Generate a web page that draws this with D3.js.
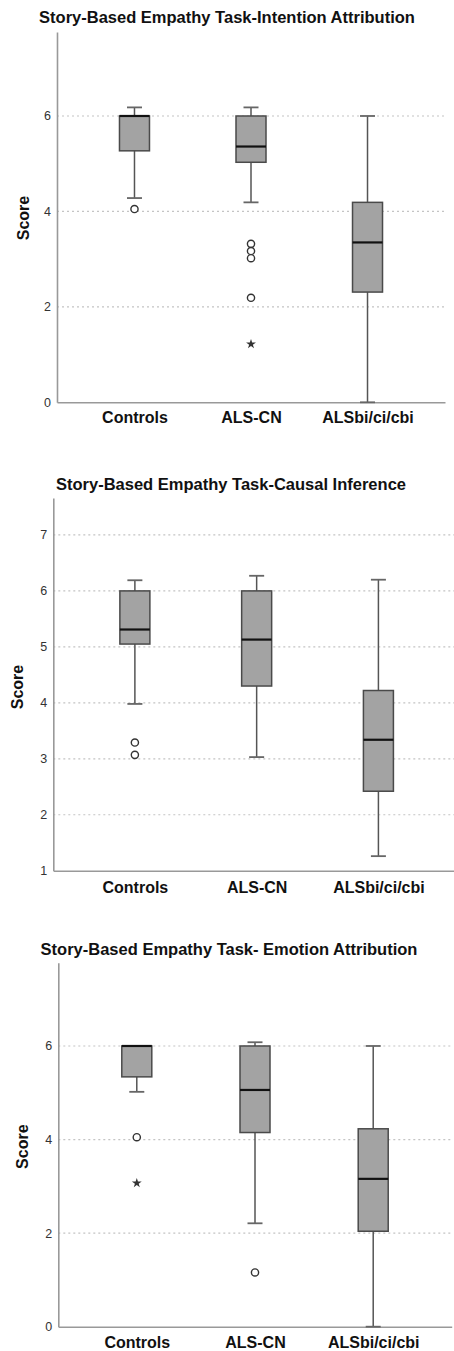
<!DOCTYPE html>
<html>
<head>
<meta charset="utf-8">
<script src="https://cdn.jsdelivr.net/npm/d3@7"></script>
<style>
  body { margin: 0; background: #fff; }
  svg { display: block; font-family: "Liberation Sans", Arial, sans-serif; }
</style>
</head>
<body>
<script>
// groups shared by the three panels
const categories = ["Controls", "ALS-CN", "ALSbi/ci/cbi"];

// five-number summaries: [lower whisker, Q1, median, Q3, upper whisker]
const intentionBoxes = [[4.28, 5.27, 6.00, 6.00, 6.18], [4.19, 5.03, 5.36, 6.00, 6.18], [0.00, 2.31, 3.35, 4.19, 6.00]];
const intentionOutliers = [[4.05], [3.32, 3.17, 3.02, 2.19], []];
const intentionExtremes = [[], [1.22], []];
const intentionTicks = [0, 2, 4, 6];

const causalBoxes = [[3.98, 5.05, 5.31, 6.00, 6.19], [3.03, 4.30, 5.13, 6.00, 6.27], [1.26, 2.42, 3.34, 4.22, 6.20]];
const causalOutliers = [[3.29, 3.07], [], []];
const causalExtremes = [[], [], []];
const causalTicks = [1, 2, 3, 4, 5, 6, 7];

const emotionBoxes = [[5.02, 5.34, 6.00, 6.00, 6.00], [2.21, 4.15, 5.06, 6.00, 6.08], [0.00, 2.04, 3.16, 4.23, 6.00]];
const emotionOutliers = [[4.05], [1.16], []];
const emotionExtremes = [[3.07], [], []];
const emotionTicks = [0, 2, 4, 6];

const width = 454, height = 1351;

const svg = d3.select("body").append("svg")
  .attr("width", width)
  .attr("height", height);

// layout of each panel (pixel positions)
const panels = [
  { title: "Story-Based Empathy Task-Intention Attribution", boxes: intentionBoxes, outliers: intentionOutliers,
    extremes: intentionExtremes, ticks: intentionTicks, domain: [0, 7.76],
    titleX: 227, titleY: 23, left: 57, right: 445, top: 32, bottom: 402.3, pad: 0.665, catPad: 9.5,
    scoreX: 23, scoreY: 218 },
  { title: "Story-Based Empathy Task-Causal Inference", boxes: causalBoxes, outliers: causalOutliers,
    extremes: causalExtremes, ticks: causalTicks, domain: [1, 7.66],
    titleX: 231, titleY: 490, left: 53.3, right: 460, top: 498, bottom: 870.7, pad: 0.67, catPad: 11,
    scoreX: 17, scoreY: 687 },
  { title: "Story-Based Empathy Task- Emotion Attribution", boxes: emotionBoxes, outliers: emotionOutliers,
    extremes: emotionExtremes, ticks: emotionTicks, domain: [0, 7.78],
    titleX: 229, titleY: 955, left: 58.3, right: 451.7, top: 962.7, bottom: 1326.7, pad: 0.664, catPad: 10,
    scoreX: 22.7, scoreY: 1146.7 }
];

const boxW = 30, capW = 15;

panels.forEach(function(p) {
  var g = svg.append("g");

  var y = d3.scaleLinear().domain(p.domain).range([p.bottom, p.top]);
  var x = d3.scalePoint().domain(categories).range([p.left, p.right]).padding(p.pad);

  // title
  g.append("text")
    .attr("x", p.titleX).attr("y", p.titleY)
    .attr("text-anchor", "middle")
    .attr("font-size", 16.5).attr("font-weight", "bold")
    .attr("fill", "#111")
    .text(p.title);

  // dotted grid lines
  g.selectAll(".grid")
    .data(p.ticks.filter(function(t) { return t !== p.domain[0]; }))
    .enter().append("line")
      .attr("x1", p.left).attr("x2", p.right)
      .attr("y1", function(d) { return y(d); })
      .attr("y2", function(d) { return y(d); })
      .attr("stroke", "#c4c4c4")
      .attr("stroke-width", 1.2)
      .attr("stroke-dasharray", "2,3");

  // y axis
  var yAxis = d3.axisLeft(y).tickValues(p.ticks).tickSize(0).tickPadding(6).tickFormat(d3.format("d"));
  var ya = g.append("g").attr("transform", "translate(" + p.left + ",0)").call(yAxis);
  ya.select(".domain").attr("stroke", "#999").attr("stroke-width", 1.6);
  ya.selectAll("text").attr("font-size", 12.5).attr("fill", "#333").attr("font-family", "Liberation Sans, Arial, sans-serif");

  // x axis
  var xAxis = d3.axisBottom(x).tickSize(0).tickPadding(p.catPad);
  var xa = g.append("g").attr("transform", "translate(0," + p.bottom + ")").call(xAxis);
  xa.select(".domain").attr("stroke", "#999").attr("stroke-width", 1.6);
  xa.selectAll("text").attr("font-size", 16).attr("font-weight", "bold").attr("fill", "#111")
    .attr("font-family", "Liberation Sans, Arial, sans-serif");

  // y label
  g.append("text")
    .attr("transform", "translate(" + p.scoreX + "," + p.scoreY + ") rotate(-90)")
    .attr("text-anchor", "middle")
    .attr("dy", "0.35em")
    .attr("font-size", 16).attr("font-weight", "bold")
    .attr("fill", "#111")
    .text("Score");

  var boxes = g.selectAll(".box")
    .data(p.boxes)
    .enter().append("g")
      .attr("transform", function(d, i) { return "translate(" + x(categories[i]) + ",0)"; });

  // whiskers
  boxes.append("line")
    .attr("x1", 0).attr("x2", 0)
    .attr("y1", function(d) { return y(d[0]); })
    .attr("y2", function(d) { return y(d[1]); })
    .attr("stroke", "#555").attr("stroke-width", 1.5);
  boxes.append("line")
    .attr("x1", 0).attr("x2", 0)
    .attr("y1", function(d) { return y(d[3]); })
    .attr("y2", function(d) { return y(d[4]); })
    .attr("stroke", "#555").attr("stroke-width", 1.5);
  // caps
  boxes.selectAll(".cap")
    .data(function(d) { return [d[0], d[4]]; })
    .enter().append("line")
      .attr("x1", -capW / 2).attr("x2", capW / 2)
      .attr("y1", function(v) { return y(v); })
      .attr("y2", function(v) { return y(v); })
      .attr("stroke", "#666").attr("stroke-width", 1.8);

  // box
  boxes.append("rect")
    .attr("x", -boxW / 2).attr("width", boxW)
    .attr("y", function(d) { return y(d[3]); })
    .attr("height", function(d) { return y(d[1]) - y(d[3]); })
    .attr("fill", "#a3a3a3")
    .attr("stroke", "#4a4a4a").attr("stroke-width", 1.5);

  // median
  boxes.append("line")
    .attr("x1", -boxW / 2).attr("x2", boxW / 2)
    .attr("y1", function(d) { return y(d[2]); })
    .attr("y2", function(d) { return y(d[2]); })
    .attr("stroke", "#111").attr("stroke-width", 2.2);

  // outliers (circles) and extremes (stars)
  boxes.each(function(d, i) {
    d3.select(this).selectAll(".out")
      .data(p.outliers[i])
      .enter().append("circle")
        .attr("cx", 0)
        .attr("cy", function(v) { return y(v); })
        .attr("r", 3.6)
        .attr("fill", "#fff")
        .attr("stroke", "#333").attr("stroke-width", 1.4);

    d3.select(this).selectAll(".ext")
      .data(p.extremes[i])
      .enter().append("path")
        .attr("d", d3.symbol().type(d3.symbolStar).size(30))
        .attr("transform", function(v) { return "translate(0," + y(v) + ")"; })
        .attr("fill", "#333");
  });
});
</script>
</body>
</html>
